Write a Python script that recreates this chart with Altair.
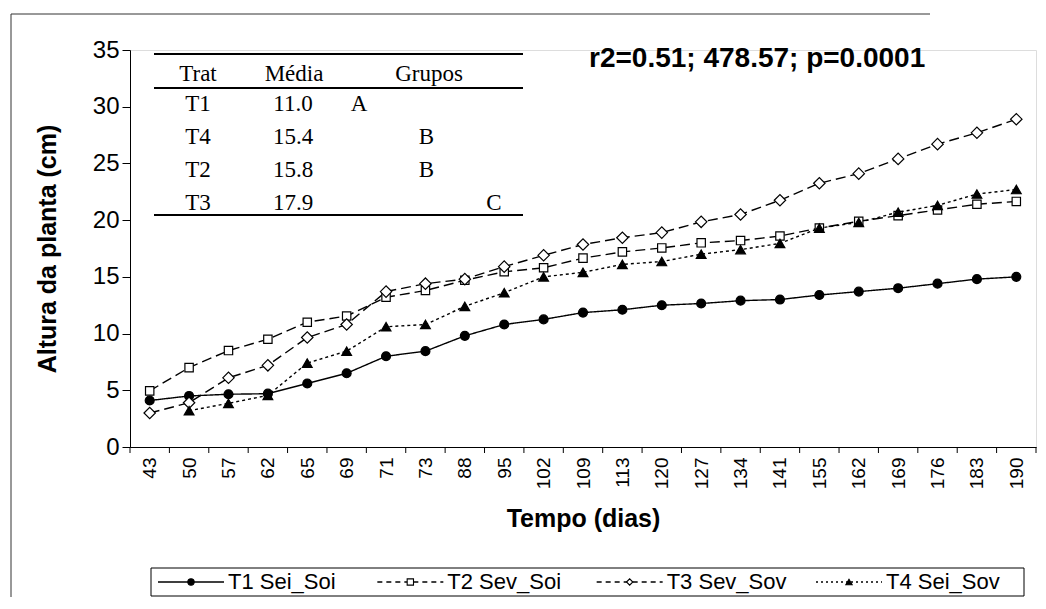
import json
import altair as alt
import pandas as pd

# ---------------- data ----------------
days = [43, 50, 57, 62, 65, 69, 71, 73, 88, 95, 102, 109, 113, 120, 127,
        134, 141, 155, 162, 169, 176, 183, 190]
t1 = [4.1, 4.5, 4.65, 4.7, 5.6, 6.5, 8.0, 8.45, 9.8, 10.8, 11.25, 11.85, 12.1,
      12.5, 12.65, 12.9, 13.0, 13.4, 13.7, 14.0, 14.4, 14.8, 15.0]
t2 = [4.95, 7.0, 8.5, 9.5, 11.0, 11.55, 13.2, 13.8, 14.7, 15.45, 15.8, 16.65,
      17.2, 17.55, 18.0, 18.2, 18.6, 19.3, 19.9, 20.4, 20.9, 21.4, 21.65]
t3 = [3.0, 3.9, 6.1, 7.2, 9.65, 10.8, 13.7, 14.4, 14.8, 15.9, 16.9, 17.85,
      18.45, 18.9, 19.85, 20.5, 21.75, 23.25, 24.1, 25.4, 26.7, 27.7, 28.9]
t4 = [None, 3.2, 3.85, 4.55, 7.4, 8.45, 10.6, 10.8, 12.4, 13.6, 15.0, 15.4,
      16.1, 16.35, 17.0, 17.4, 17.95, 19.3, 19.8, 20.7, 21.3, 22.3, 22.7]
series_names = ["T1 Sei_Soi", "T2 Sev_Soi", "T3 Sev_Sov", "T4 Sei_Sov"]

table_header = ["Trat", "Média", "Grupos"]
table_trat = ["T1", "T4", "T2", "T3"]
table_media = ["11.0", "15.4", "15.8", "17.9"]
table_grupo = ["A", "B", "B", "C"]
group_levels = ["A", "B", "C"]

stats_text = "r2=0.51; 478.57; p=0.0001"
x_title = "Tempo (dias)"
y_title = "Altura da planta (cm)"

# ---------------- tables ----------------
rows = []
for name, vals in zip(series_names, [t1, t2, t3, t4]):
    for i, (d, v) in enumerate(zip(days, vals)):
        if v is None:
            continue
        rows.append({"series": name, "idx": i, "dia": d, "altura": v})
df = pd.DataFrame(rows)

bounds = pd.DataFrame({"b": [i - 0.5 for i in range(len(days) + 1)]})
tab = pd.DataFrame({"trat": table_trat, "media": table_media,
                    "grupo": table_grupo, "row": list(range(len(table_trat)))})
leg_df = pd.DataFrame({"series": series_names})
one = pd.DataFrame({"k": [0]})

# ---------------- styles ----------------
FONT = "Liberation Sans"
SERIF = "Liberation Serif"
W, H = 906, 397

shapes = ["circle", "square", "diamond", "triangle-up"]
fills = ["black", "white", "white", "black"]
sizes = [80, 70, 130, 95]
dashes = [[1, 0], [10, 5], [10, 5], [3, 3]]
leg_dashes = [[1, 0], [5, 4], [5, 4], [2, 3]]

label_expr = json.dumps([str(d) for d in days]) + "[round(datum.value)]"
x_scale = alt.Scale(domain=[-0.5, len(days) - 0.5], nice=False, zero=False)
x_axis = alt.Axis(values=list(range(len(days))), labelExpr=label_expr,
                  labelAngle=-90, labelFontSize=19, labelPadding=10,
                  labelFlush=False, labelOverlap=False, ticks=False,
                  domainColor="black", labelColor="black", grid=False,
                  title=x_title, titleFontSize=25, titleFontWeight="bold",
                  titleColor="black", titlePadding=18, labelFont=FONT,
                  titleFont=FONT)
y_scale = alt.Scale(domain=[0, 35], nice=False, zero=True)
y_axis = alt.Axis(values=list(range(0, 36, 5)), tickSize=8, tickColor="black",
                  domainColor="black", labelColor="black", labelFontSize=24,
                  labelPadding=3, grid=False, title=y_title, titleFontSize=25,
                  titleFontWeight="bold", titleColor="black", titlePadding=32,
                  labelFont=FONT, titleFont=FONT)

xe = alt.X("idx:Q", scale=x_scale, axis=x_axis)
ye = alt.Y("altura:Q", scale=y_scale, axis=y_axis)

base = alt.Chart(df)
lines = [
    base.transform_filter(alt.datum.series == s).mark_line(
        color="black", strokeWidth=1.4, strokeDash=dashes[k]
    ).encode(x=xe, y=ye)
    for k, s in enumerate(series_names)
]
points = [
    base.transform_filter(alt.datum.series == s).mark_point(
        shape=shapes[k], filled=True, fill=fills[k],
        stroke="black", strokeWidth=1.2, size=sizes[k], opacity=1
    ).encode(x=xe, y=ye)
    for k, s in enumerate(series_names)
]

ticks = alt.Chart(bounds).mark_rule(color="black", strokeWidth=1).encode(
    x=alt.X("b:Q", scale=x_scale, axis=x_axis),
    y=alt.value(H), y2=alt.value(H + 6))

plot = alt.layer(*lines, *points, ticks)

# ---------------- legend (own scales) ----------------
LEG_Y = 532
leg_x = alt.X("series:N", scale=alt.Scale(type="point", domain=series_names,
                                         range=[61, 719], padding=0), axis=None)
lbase = alt.Chart(leg_df)
leg_box = alt.Chart(one).mark_rect(fill="white", stroke="black", strokeWidth=1).encode(
    x=alt.value(21), x2=alt.value(894), y=alt.value(518), y2=alt.value(546))
leg_lines = lbase.mark_rule(color="black", strokeWidth=1.3, xOffset=-33,
                            x2Offset=33).encode(
    x=leg_x, x2=alt.X2("series:N"), y=alt.value(LEG_Y),
    strokeDash=alt.StrokeDash("series:N", scale=alt.Scale(domain=series_names,
                                                         range=leg_dashes),
                              legend=None))
leg_pts = lbase.mark_point(filled=True, stroke="black", strokeWidth=1.1,
                           size=40, opacity=1).encode(
    x=leg_x, y=alt.value(LEG_Y),
    shape=alt.Shape("series:N", scale=alt.Scale(domain=series_names, range=shapes),
                    legend=None),
    fill=alt.Fill("series:N", scale=alt.Scale(domain=series_names, range=fills),
                  legend=None))
leg_txt = lbase.mark_text(align="left", baseline="middle", dx=37, font=FONT,
                          fontSize=22, color="black").encode(
    x=leg_x, y=alt.value(LEG_Y), text="series:N")
legend = alt.layer(leg_box, leg_lines, leg_pts, leg_txt)

# ---------------- inset table ----------------
row_y = alt.Y("row:Q", scale=alt.Scale(domain=[0, 3], range=[54, 153]), axis=None)
tbase = alt.Chart(tab)
t_trat = tbase.mark_text(font=SERIF, fontSize=23, color="black").encode(
    x=alt.value(68), y=row_y, text="trat:N")
t_media = tbase.mark_text(font=SERIF, fontSize=23, color="black").encode(
    x=alt.value(163), y=row_y, text="media:N")
t_grp = tbase.mark_text(font=SERIF, fontSize=23, color="black").encode(
    x=alt.X("grupo:N", scale=alt.Scale(type="point", domain=group_levels,
                                       range=[229, 364], padding=0), axis=None),
    y=row_y, text="grupo:N")
header_x = [68, 164, 299]
t_head = [
    alt.Chart(one).mark_text(font=SERIF, fontSize=23, color="black", text=h).encode(
        x=alt.value(hx), y=alt.value(24))
    for h, hx in zip(table_header, header_x)
]
t_rules = [
    alt.Chart(one).mark_rule(color="black", strokeWidth=2).encode(
        x=alt.value(24), x2=alt.value(393), y=alt.value(ry), y2=alt.value(ry))
    for ry in [4, 38, 165]
]
table = alt.layer(t_trat, t_media, t_grp, *t_head, *t_rules)

annot = alt.Chart(one).mark_text(
    text=stats_text, font=FONT, fontSize=28, fontWeight="bold", color="black",
    align="left", baseline="middle").encode(x=alt.value(459), y=alt.value(9))

frame_top = alt.Chart(one).mark_rule(color="#333333", strokeWidth=1).encode(
    x=alt.value(-119), x2=alt.value(800), y=alt.value(-36), y2=alt.value(-36))
frame_left = alt.Chart(one).mark_rule(color="#333333", strokeWidth=1).encode(
    x=alt.value(-119), x2=alt.value(-119), y=alt.value(-36), y2=alt.value(547))

chart = alt.layer(plot, table, legend, annot, frame_top, frame_left).resolve_scale(
    x="independent", y="independent"
).properties(
    width=W, height=H,
    padding={"left": 2, "top": 5, "right": 0, "bottom": 0},
    background="white",
).configure_view(stroke=None).configure(font=FONT)

chart.save("out.html", embed_options={"renderer": "svg", "actions": False})
